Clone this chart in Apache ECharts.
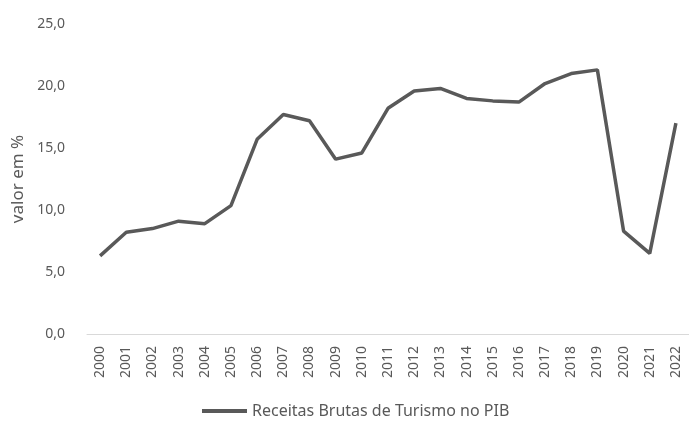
<!DOCTYPE html>
<html><head><meta charset="utf-8">
<script src="https://cdn.jsdelivr.net/npm/echarts@6/dist/echarts.min.js"></script>
<style>html,body{margin:0;padding:0;background:#fff}#c{width:689px;height:421px}</style>
</head><body><div id="c"></div>
<script>
const years = ['2000','2001','2002','2003','2004','2005','2006','2007','2008','2009','2010','2011','2012','2013','2014','2015','2016','2017','2018','2019','2020','2021','2022'];
const receitas = [6.3,8.2,8.5,9.1,8.9,10.35,15.7,17.7,17.2,14.1,14.6,18.2,19.6,19.8,19.0,18.8,18.7,20.2,21.0,21.3,8.3,6.5,17.0];
const seriesName = 'Receitas Brutas de Turismo no PIB';
const chart = echarts.init(document.getElementById('c'));
chart.setOption({
  animation:false,
  grid:{left:87,right:-4,top:24,bottom:87},
  legend:{top:398,left:197,itemWidth:45,itemHeight:4,itemGap:4,
    textStyle:{color:'#595959',fontSize:16,fontFamily:'Noto Sans'},
    data:[{name:seriesName,icon:'rect'}]},
  xAxis:{type:'category',data:years,boundaryGap:true,
    axisLine:{lineStyle:{color:'#d9d9d9',width:1}},axisTick:{show:false},
    axisLabel:{rotate:90,color:'#595959',fontSize:14,fontFamily:'Noto Sans',margin:12,interval:0}},
  yAxis:{type:'value',min:0,max:25,interval:5,
    name:'valor em %',nameLocation:'middle',nameGap:56,nameRotate:90,
    nameTextStyle:{color:'#595959',fontSize:17,fontFamily:'Noto Sans'},
    splitLine:{show:false},axisLine:{show:false},axisTick:{show:false},
    axisLabel:{color:'#595959',fontSize:14,fontFamily:'Noto Sans',margin:22,
      formatter:v=>v.toFixed(1).replace('.',',')}},
  series:[{name:seriesName,type:'line',data:receitas,showSymbol:false,symbol:'none',
    lineStyle:{color:'#595959',width:3.5},itemStyle:{color:'#595959'}}]
});
</script></body></html>
